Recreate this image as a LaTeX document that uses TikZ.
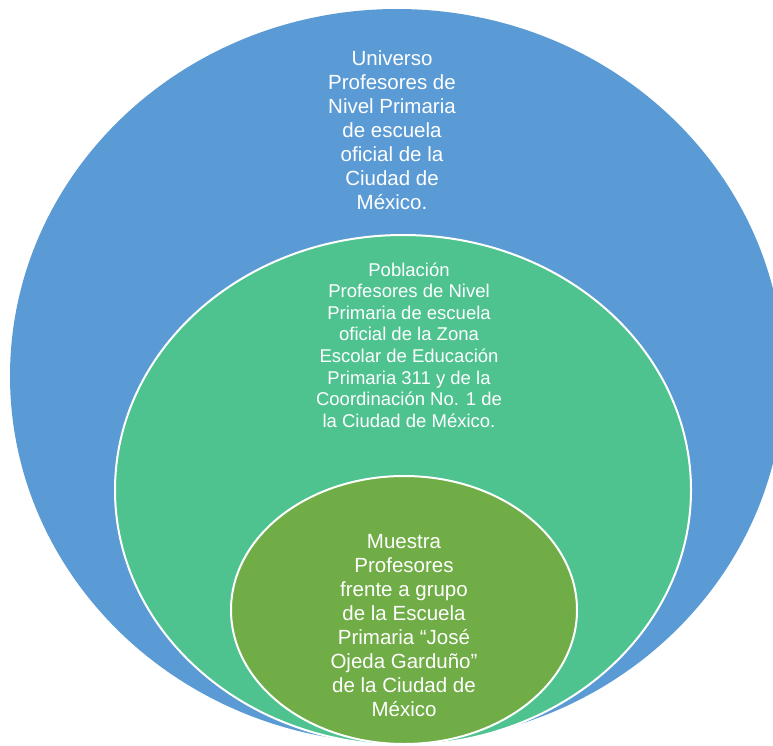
\documentclass[tikz,border=0pt]{standalone}
\usepackage{fontspec}
\setmainfont{Liberation Sans}
\definecolor{cblue}{HTML}{5B9BD5}
\definecolor{cgreen}{HTML}{4EC38F}
\definecolor{colive}{HTML}{70AD47}
\tikzset{
  ring/.style={draw=white, line width=2pt},
  bigtxt/.style={text=white, align=center, inner sep=0pt, font=\fontsize{20.5}{24}\selectfont},
  midtxt/.style={text=white, align=center, inner sep=0pt, font=\fontsize{18.5}{21.6}\selectfont}
}
\begin{document}
\begin{tikzpicture}[x=1pt,y=-1pt]
\useasboundingbox (0,0) rectangle (773,746);
\clip (0,0) rectangle (773,746);
\fill[cblue] (397,376) ellipse [x radius=387pt, y radius=367pt];
\fill[cgreen, ring] (403,490) ellipse [x radius=288pt, y radius=255pt];
\fill[colive, ring] (404,610) ellipse [x radius=173pt, y radius=134pt];
\node[bigtxt] (universo) at (392,130) {Universo\\Profesores de\\Nivel Primaria\\de escuela\\oficial de la\\Ciudad de\\México.};
\node[midtxt] (poblacion) at (409,345) {Población\\Profesores de Nivel\\Primaria de escuela\\oficial de la Zona\\Escolar de Educación\\Primaria 311 y de la\\Coordinación No. 1 de\\la Ciudad de México.};
\node[bigtxt] (muestra) at (404,626) {Muestra\\Profesores\\frente a grupo\\de la Escuela\\Primaria “José\\Ojeda Garduño”\\de la Ciudad de\\México};
\end{tikzpicture}
\end{document}
